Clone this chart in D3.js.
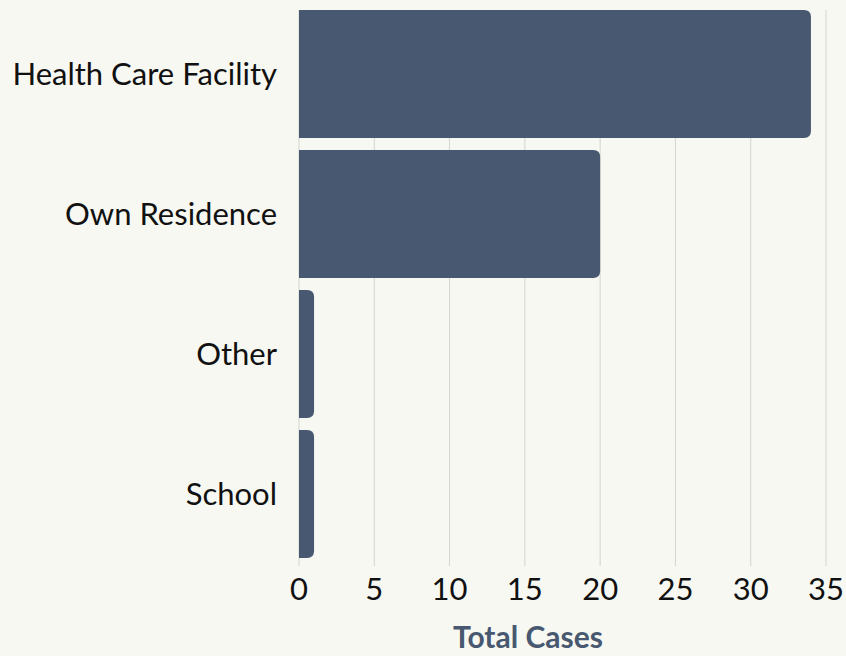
<!DOCTYPE html>
<html>
<head>
<meta charset="utf-8">
<script src="https://cdn.jsdelivr.net/npm/d3@7"></script>
<style>
  body { margin: 0; background: #f7f8f2; }
  svg { display: block; }
</style>
</head>
<body>
<div class="chart"></div>
<script>
var categories = ["Health Care Facility", "Own Residence", "Other", "School"];
var totalCases = [34, 20, 1, 1];
var xTicks = [0, 5, 10, 15, 20, 25, 30, 35];

var width = 846, height = 656;
var barColor = '#475870';
var font = 'Lato, sans-serif';

var svg = d3.select('.chart')
    .append('svg')
    .attr('width', width)
    .attr('height', height);

svg.append('rect')
    .attr('width', width)
    .attr('height', height)
    .attr('fill', '#f7f8f2');

var x = d3.scaleLinear()
    .domain([0, 35])
    .range([299, 826]);

var y = d3.scaleBand()
    .domain(categories)
    .range([10, 558])
    .paddingInner(12 / 140);

// grid lines
svg.append('g')
    .selectAll('line')
    .data(xTicks)
    .enter()
    .append('line')
    .attr('x1', function(d){ return x(d); })
    .attr('x2', function(d){ return x(d); })
    .attr('y1', 10)
    .attr('y2', 566)
    .attr('stroke', '#d3d4ce')
    .attr('stroke-width', 1);

// bars: square on the left, rounded on the right
var r = 7;
function barPath(d, i) {
    var x0 = x(0), x1 = x(d), y0 = y(categories[i]), h = y.bandwidth();
    var rr = Math.min(r, (x1 - x0));
    return 'M' + x0 + ',' + y0 +
        'H' + (x1 - rr) +
        'Q' + x1 + ',' + y0 + ' ' + x1 + ',' + (y0 + rr) +
        'V' + (y0 + h - rr) +
        'Q' + x1 + ',' + (y0 + h) + ' ' + (x1 - rr) + ',' + (y0 + h) +
        'H' + x0 + 'Z';
}

svg.append('g')
    .selectAll('path')
    .data(totalCases)
    .enter()
    .append('path')
    .attr('d', barPath)
    .attr('fill', barColor);

// category labels
svg.append('g')
    .selectAll('text')
    .data(categories)
    .enter()
    .append('text')
    .attr('x', 277)
    .attr('y', function(d){ return y(d) + y.bandwidth() / 2; })
    .attr('dy', '0.35em')
    .attr('text-anchor', 'end')
    .style('font-family', font)
    .style('font-size', '31px')
    .style('fill', '#111')
    .text(function(d){ return d; });

// x tick labels
svg.append('g')
    .selectAll('text')
    .data(xTicks)
    .enter()
    .append('text')
    .attr('x', function(d){ return x(d); })
    .attr('y', 600)
    .attr('text-anchor', 'middle')
    .style('font-family', font)
    .style('font-size', '31px')
    .style('fill', '#111')
    .text(function(d){ return d; });

// axis title
svg.append('text')
    .attr('x', 528)
    .attr('y', 648)
    .attr('text-anchor', 'middle')
    .style('font-family', font)
    .style('font-weight', 'bold')
    .style('font-size', '30px')
    .style('fill', barColor)
    .text('Total Cases');
</script>
</body>
</html>
